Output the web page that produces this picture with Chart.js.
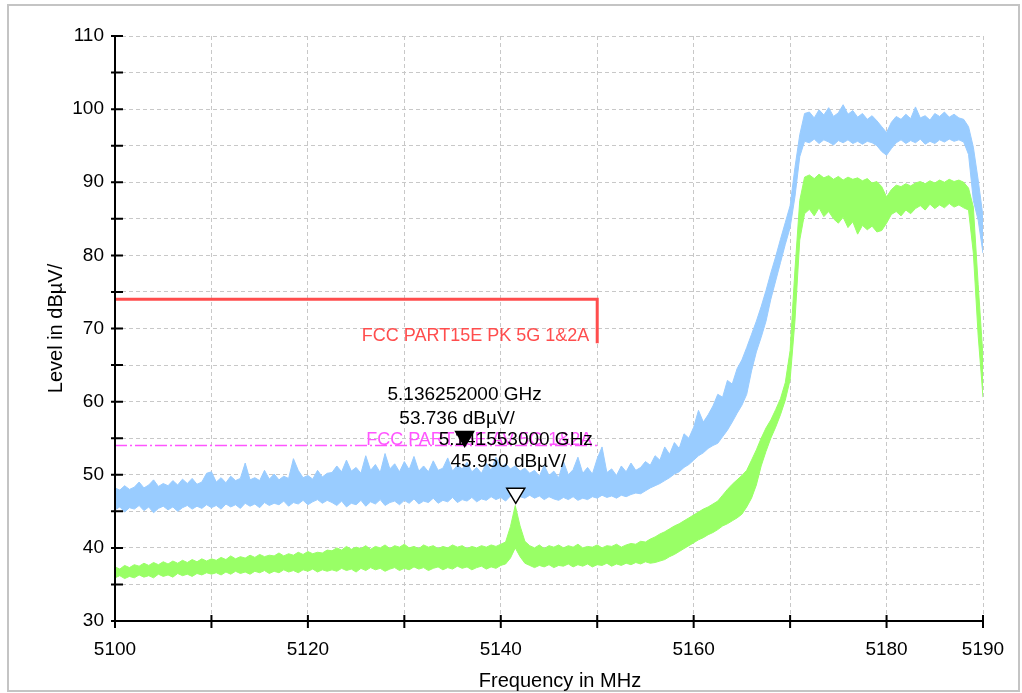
<!DOCTYPE html>
<html>
<head>
<meta charset="utf-8">
<script src="https://cdn.jsdelivr.net/npm/chart.js@4.4.0/dist/chart.umd.min.js"></script>
<style>
  html, body { margin: 0; padding: 0; background: #fff; }
  canvas { display: block; }
</style>
</head>
<body>
<canvas id="chart" width="1022" height="693"></canvas>
<script>
// sweep grid: 5100 MHz .. 5190 MHz, one reading every 0.5 MHz
const FREQ_START = 5100;
const FREQ_STEP = 0.5;

// upper / lower edge of each noisy trace, dBµV
const blueHigh = [
  48.2, 47.9, 48.5, 48.0, 48.3, 49.0, 48.2, 48.6, 49.3, 48.4, 48.8, 48.5, 49.2, 48.6, 49.4, 48.8, 49.5, 48.7, 49.0, 50.2, 50.4,
  49.0, 49.6, 48.9, 49.8, 49.2, 49.5, 51.6, 49.3, 49.6, 49.2, 50.6, 49.4, 50.1, 49.3, 49.8, 49.5, 52.2, 50.6, 49.6, 49.9, 49.4, 50.6, 49.7, 50.2,
  50.3, 51.2, 50.4, 52.0, 50.5, 51.0, 50.2, 52.6, 50.6, 51.4, 50.3, 52.9, 50.8, 51.5, 50.4, 51.8, 50.7, 52.5, 50.5, 51.2,
  50.4, 51.9, 50.6, 50.9, 52.3, 50.5, 51.3, 50.8, 51.7, 50.4, 51.0, 50.2, 51.6, 50.6, 52.4, 50.9, 51.5, 50.8, 51.2, 50.5, 50.9, 50.2,
  50.6, 49.8, 51.3, 49.9, 50.5, 49.6, 51.8, 50.0, 50.7, 52.4, 50.2, 51.0, 50.1, 52.2, 53.8, 50.3, 50.8, 49.9, 51.2, 50.4,
  51.6, 50.6, 51.0, 51.8, 51.3, 52.6, 52.0, 53.8, 52.8, 54.4, 53.6, 55.6, 55.0,
  56.5, 58.8, 57.2, 58.2, 59.4, 61.0, 60.6, 62.9, 62.4, 64.5, 65.7, 67.4, 69.2, 71.0, 73.0, 75.2, 77.6, 79.8, 82.2, 84.5, 86.8, 92.0, 96.5, 99.4,
  99.6, 98.8, 99.9, 99.2, 100.2, 99.0, 99.5, 100.6, 99.3, 99.8, 98.9, 99.4, 98.6, 99.1, 98.4, 97.6, 96.8, 98.2, 99.0, 98.6,
  99.3, 98.7, 100.3, 98.8, 99.1, 98.5, 99.4, 99.0, 99.6, 98.9, 99.3, 98.8, 98.6, 97.6, 94.8, 90.3, 85.3
];
const blueLow = [
  45.2, 45.6, 44.9, 45.5, 45.3, 45.8, 45.1, 45.6, 44.8, 45.4, 45.7, 45.2, 45.6, 45.0, 45.5, 45.8, 45.3, 45.7, 45.4, 45.9, 45.5,
  45.8, 45.3, 46.0, 45.6, 45.9, 45.4, 46.1, 45.7, 46.0, 45.5, 46.2, 45.8, 46.1, 45.9, 46.4, 45.7, 46.2, 46.0, 46.5, 45.9, 46.3, 46.6, 46.1, 46.5,
  46.2, 45.8, 46.4, 45.6, 46.1, 45.9, 46.5, 45.7, 46.3, 46.0, 46.6, 45.8, 46.2, 46.4, 45.9, 46.5, 46.1, 46.7, 46.0, 46.4,
  46.2, 46.8, 46.1, 46.5, 46.3, 46.9, 46.2, 46.6, 46.4, 46.9, 46.3, 46.7, 46.5, 47.0, 46.6, 46.9, 46.4, 47.1, 46.7, 47.0, 46.8, 47.2,
  46.8, 47.1, 46.6, 47.0, 46.7, 46.5, 46.9, 46.6, 47.0, 46.5, 46.8, 46.6, 47.0, 46.8, 47.2, 46.9, 47.1, 46.8, 47.2, 47.0,
  47.3, 47.5, 47.4, 47.8, 48.2, 48.5, 48.8, 49.2, 49.6, 50.1, 50.4, 51.0, 51.4,
  52.0, 52.6, 53.0, 53.6, 54.0, 54.3, 55.2, 56.1, 57.2, 58.4, 59.5, 61.0, 64.2, 66.8, 68.8, 71.0, 74.0, 76.5, 79.0, 81.5, 83.8, 88.0, 93.5, 95.6,
  95.4, 95.9, 95.3, 95.8, 95.5, 95.1, 95.7, 95.4, 95.8, 95.3, 95.6, 95.2, 95.6, 95.4, 95.0, 94.2, 93.7, 94.6, 95.4, 95.8,
  95.3, 95.7, 95.4, 95.9, 95.2, 95.6, 95.3, 95.8, 95.5, 95.9, 95.6, 95.8, 95.5, 93.8, 87.5, 84.8, 80.3
];
const greenHigh = [
  37.4, 37.1, 37.6, 37.3, 37.7, 37.5, 37.9, 37.6, 38.0, 37.7, 38.1, 37.8, 38.2, 37.9, 38.3, 38.0, 38.4, 38.1, 38.5, 38.2, 38.5,
  38.3, 38.7, 38.4, 38.9, 38.5, 38.8, 38.6, 39.0, 38.7, 39.1, 38.8, 39.0, 38.9, 39.3, 38.9, 39.2, 39.0, 39.4, 39.1, 39.5, 39.2, 39.4, 39.3, 39.7,
  39.6, 40.0, 39.7, 40.2, 39.8, 40.1, 39.9, 40.3, 39.8, 40.2, 40.0, 40.4, 39.9, 40.3, 40.1, 40.5, 40.0, 40.2,
  39.9, 40.4, 40.1, 40.3, 39.9, 40.2, 40.0, 40.4, 40.1, 40.3, 39.9, 40.2, 40.0, 40.3, 40.1, 40.4, 40.2, 40.5,
  40.8, 42.9, 45.8, 43.0, 40.9, 40.3,
  40.0, 40.4, 39.9, 40.3, 40.1, 40.4, 40.0, 40.3, 40.1, 40.5, 40.0, 40.2, 40.1, 40.4, 40.0, 40.3, 40.2, 40.5, 40.1, 40.4,
  40.6, 40.5, 40.9, 40.8, 41.2,
  41.5, 41.9, 42.2, 42.6, 43.0, 43.3, 43.7, 44.1, 44.5, 44.9, 45.3, 45.6, 46.0, 46.4, 47.2, 48.0, 48.7, 49.3, 49.9, 50.6,
  52.0, 53.4, 55.0, 56.4, 57.5, 58.9, 60.4, 62.6, 67.0, 78.0, 87.5, 90.7,
  91.0, 90.5, 91.1, 90.6, 90.9, 90.4, 90.8, 90.3, 90.7, 90.4, 90.6, 90.2, 90.5, 89.9, 90.1, 89.4, 88.0, 89.0, 89.6, 89.4,
  89.8, 89.5, 89.9, 90.1, 89.8, 90.2, 89.9, 90.3, 90.0, 90.4, 90.1, 90.3, 90.0, 89.2, 86.6, 76.0, 66.1
];
const greenLow = [
  35.9, 36.2, 35.8, 36.1, 35.9, 36.3, 36.0, 36.2, 35.9, 36.4, 36.1, 36.3, 36.0, 36.5, 36.2, 36.4, 36.1, 36.5, 36.3, 36.6, 36.4,
  36.6, 36.3, 36.7, 36.4, 36.8, 36.5, 36.7, 36.4, 36.8, 36.6, 36.9, 36.5, 36.8, 36.6, 37.0, 36.7, 36.9, 36.6, 37.0, 36.8, 37.1, 36.7, 37.0, 36.8,
  37.0, 36.8, 37.2, 36.9, 37.1, 36.7, 37.2, 36.9, 37.3, 37.0, 37.2, 36.8, 37.1, 37.3, 36.9, 37.2, 37.0, 37.4,
  37.1, 37.3, 36.9, 37.2, 37.4, 37.0, 37.3, 37.1, 37.5, 37.2, 37.4, 37.0, 37.3, 37.5, 37.1, 37.4, 37.2, 37.6,
  37.8, 38.6, 40.0, 38.8, 37.9, 37.6,
  37.3, 37.6, 37.4, 37.7, 37.3, 37.6, 37.5, 37.8, 37.4, 37.7, 37.5, 37.8, 37.4, 37.7, 37.6, 37.9, 37.5, 37.8, 37.6, 37.9,
  37.7, 38.0, 37.8, 38.1, 37.9,
  38.0, 38.2, 38.4, 38.8, 39.1, 39.5, 39.9, 40.3, 40.7, 41.1, 41.4, 41.8, 42.1, 42.5, 43.0, 43.3, 43.7, 44.1, 44.6, 45.6,
  46.8, 48.6, 51.2, 53.2, 55.0, 56.5, 58.2, 60.2, 63.0, 71.0, 82.1, 85.7,
  86.3, 85.4, 86.5, 85.3, 86.0, 85.0, 84.4, 85.2, 83.8, 84.6, 82.9, 84.1, 83.5, 84.0, 83.2, 83.4, 84.4, 85.6, 86.0, 85.4,
  86.2, 85.7, 86.4, 86.8, 86.2, 87.0, 86.4, 86.9, 86.5, 87.1, 86.6, 86.9, 86.5, 86.2, 80.3, 69.0, 60.6
];

// limit lines
const limitPkFreqs = [5100, 5150, 5150];
const limitPkLevels = [74, 74, 68];
const limitAvFreqs = [5100, 5150];
const limitAvLevels = [54, 54];

// markers
const markerFreqs = [5136.252, 5141.553];
const markerLevels = [53.736, 45.950];
const markerFilled = [true, false];

const xTickLabels = [5100, 5120, 5140, 5160, 5180, 5190];

const BLUE = '#99ccff';
const GREEN = '#99ff66';
const RED = '#ff4d4d';
const PINK = '#ff55ff';
const FONT = '"Liberation Sans", Arial, sans-serif';

const trace = (vals) => vals.map((v, i) => ({ x: FREQ_START + i * FREQ_STEP, y: v }));
const pairs = (xs, ys) => xs.map((f, i) => ({ x: f, y: ys[i] }));

const overlay = {
  id: 'overlay',
  beforeDraw(chart) {
    const ctx = chart.ctx;
    ctx.save();
    ctx.fillStyle = '#fff';
    ctx.fillRect(0, 0, chart.width, chart.height);
    ctx.strokeStyle = '#c4c4c4';
    ctx.lineWidth = 2;
    ctx.strokeRect(8, 5, 1011, 686);
    ctx.restore();
  },
  afterDatasetsDraw(chart) {
    const { ctx, chartArea: a, scales: { x, y } } = chart;
    ctx.save();

    // axis lines with ticks crossing them
    ctx.strokeStyle = '#000';
    ctx.lineWidth = 2;
    ctx.beginPath();
    ctx.moveTo(a.left, a.top);
    ctx.lineTo(a.left, a.bottom);
    ctx.lineTo(a.right, a.bottom);
    y.ticks.forEach(t => {
      const py = y.getPixelForValue(t.value);
      ctx.moveTo(a.left - 4, py);
      ctx.lineTo(a.left + 8, py);
    });
    x.ticks.forEach(t => {
      const px = x.getPixelForValue(t.value);
      ctx.moveTo(px, a.bottom - 6);
      ctx.lineTo(px, a.bottom + 7);
    });
    ctx.stroke();

    // limit line labels
    ctx.font = '18px ' + FONT;
    ctx.textAlign = 'right';
    ctx.textBaseline = 'alphabetic';
    ctx.fillStyle = RED;
    ctx.fillText('FCC PART15E PK 5G 1&2A', x.getPixelForValue(limitPkFreqs[2]) - 8, y.getPixelForValue(limitPkLevels[2]) - 2);
    ctx.fillStyle = PINK;
    ctx.fillText('FCC PART15E AV 5G 1&2A', x.getPixelForValue(limitAvFreqs[1]) - 5, y.getPixelForValue(limitAvLevels[1]) - 1);

    // markers
    const textOffsets = [[-47, -23], [-59, -37]];
    markerFreqs.forEach((f, i) => {
      const px = x.getPixelForValue(f);
      const py = y.getPixelForValue(markerLevels[i]);
      ctx.beginPath();
      ctx.moveTo(px, py - 1);
      ctx.lineTo(px - 9, py - 16);
      ctx.lineTo(px + 9, py - 16);
      ctx.closePath();
      ctx.fillStyle = markerFilled[i] ? '#000' : '#fff';
      ctx.fill();
      ctx.strokeStyle = '#000';
      ctx.lineWidth = 1.5;
      ctx.stroke();

      ctx.fillStyle = '#000';
      ctx.font = '19px ' + FONT;
      ctx.textAlign = 'center';
      ctx.fillText((f / 1000).toFixed(9) + ' GHz', px, py + textOffsets[i][0]);
      ctx.fillText(markerLevels[i].toFixed(3) + ' dBµV/', px - 7.5, py + textOffsets[i][1]);
    });

    // axis titles
    ctx.fillStyle = '#000';
    ctx.font = '20px ' + FONT;
    ctx.textAlign = 'center';
    ctx.fillText('Frequency in MHz', 560, 687);
    ctx.translate(56, (a.top + a.bottom) / 2);
    ctx.rotate(-Math.PI / 2);
    ctx.textBaseline = 'middle';
    ctx.fillText('Level in dBµV/', 0, 0);
    ctx.restore();
  }
};

new Chart(document.getElementById('chart'), {
  type: 'line',
  data: {
    datasets: [
      { data: pairs(limitPkFreqs, limitPkLevels), borderColor: RED, borderWidth: 3, pointRadius: 0, fill: false },
      { data: pairs(limitAvFreqs, limitAvLevels), borderColor: PINK, borderWidth: 1.5, borderDash: [12, 3, 2, 3], pointRadius: 0, fill: false },
      { data: trace(blueHigh), borderColor: BLUE, backgroundColor: BLUE, borderWidth: 1, pointRadius: 0, fill: '+1' },
      { data: trace(blueLow), borderColor: BLUE, borderWidth: 1, pointRadius: 0, fill: false },
      { data: trace(greenHigh), borderColor: GREEN, backgroundColor: GREEN, borderWidth: 1, pointRadius: 0, fill: '+1' },
      { data: trace(greenLow), borderColor: GREEN, borderWidth: 1, pointRadius: 0, fill: false }
    ]
  },
  options: {
    responsive: false,
    animation: false,
    devicePixelRatio: 1,
    layout: { padding: { top: 36, right: 39, left: 0, bottom: 0 } },
    plugins: { legend: { display: false }, tooltip: { enabled: false } },
    elements: { line: { tension: 0 } },
    scales: {
      x: {
        type: 'linear',
        min: 5100,
        max: 5190,
        afterFit: (s) => { s.height = 72; },
        grid: { color: '#c8c8c8', lineWidth: 1, drawTicks: false },
        border: { display: false, dash: [4, 3] },
        ticks: {
          stepSize: 10,
          autoSkip: false,
          maxRotation: 0,
          padding: 17,
          color: '#000',
          font: { family: FONT, size: 19 },
          callback: (v) => xTickLabels.includes(v) ? String(v) : ''
        }
      },
      y: {
        min: 30,
        max: 110,
        afterFit: (s) => { s.width = 115; },
        grid: { color: '#c8c8c8', lineWidth: 1, drawTicks: false },
        border: { display: false, dash: [4, 3] },
        ticks: {
          stepSize: 5,
          autoSkip: false,
          padding: 11,
          color: '#000',
          font: { family: FONT, size: 19 },
          callback: (v) => v % 10 === 0 ? String(v) : ''
        }
      }
    }
  },
  plugins: [overlay]
});
</script>
</body>
</html>
